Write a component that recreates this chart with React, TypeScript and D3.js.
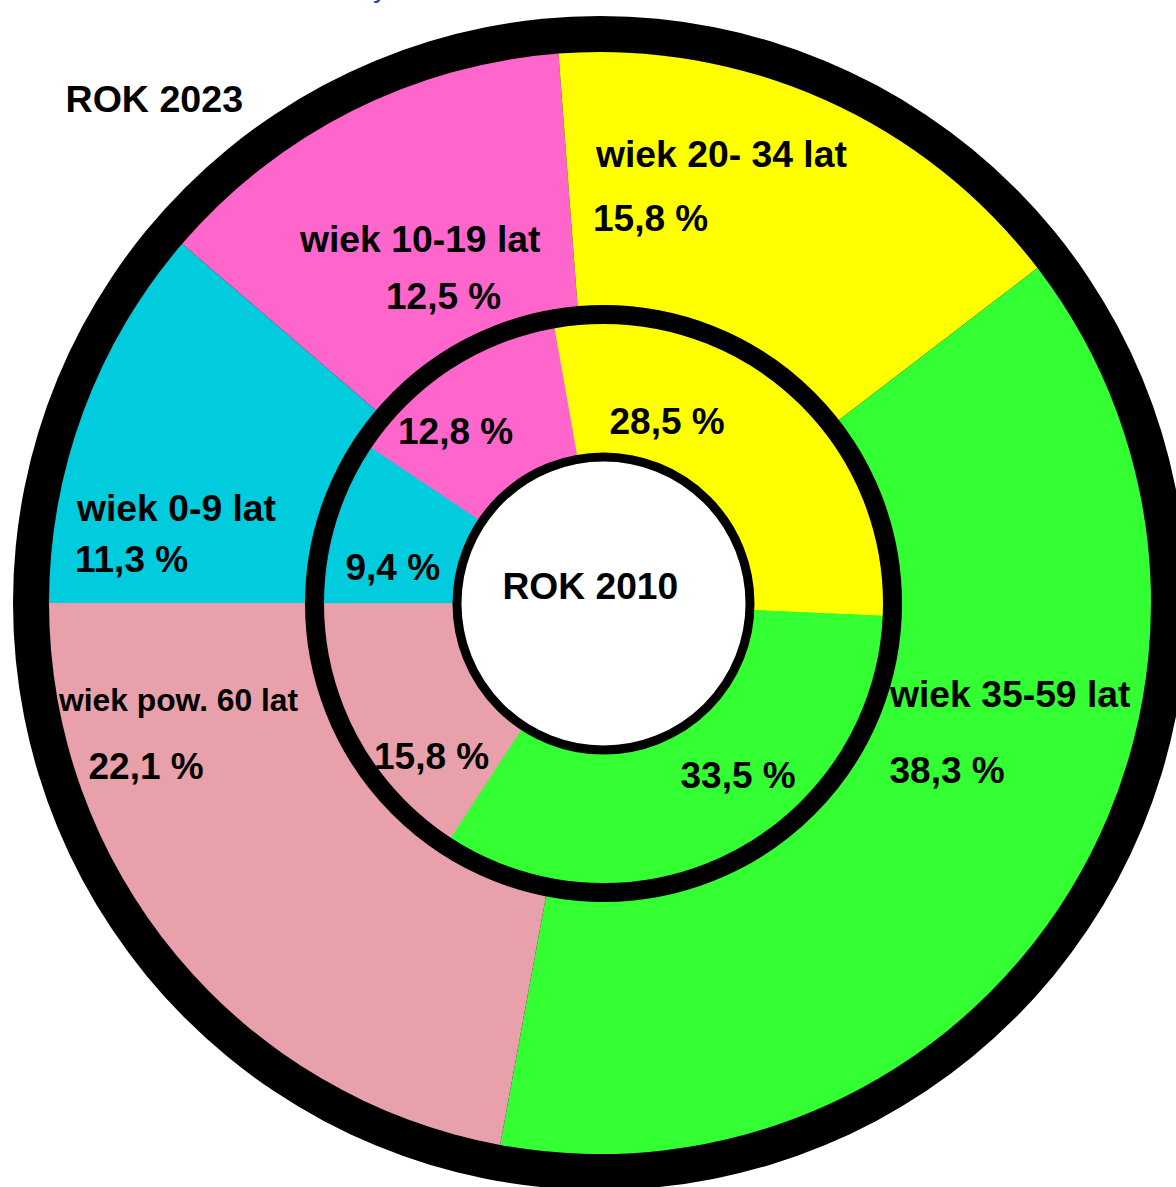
import React from "react";
import * as d3 from "d3";

// ---- data ----
const categories = ["wiek 0-9 lat", "wiek 10-19 lat", "wiek 20- 34 lat", "wiek 35-59 lat", "wiek pow. 60 lat"];
const values2023 = [11.3, 12.5, 15.8, 38.3, 22.1];
const values2010 = [9.4, 12.8, 28.5, 33.5, 15.8];
const sliceColors = ["#00CCDD", "#FF66CC", "#FFFF00", "#33FF33", "#E8A0AA"];
const yearOuter = "ROK 2023";
const yearInner = "ROK 2010";

// ---- layout (positions of labels, not data) ----
const W = 1176;
const H = 1187;
const outerC = { x: 600, y: 603 };
const innerC = { x: 603.5, y: 603.5 };
const nameLayout = [
  { x: 77, y: 521, size: 37.3 },
  { x: 300, y: 252, size: 37.3 },
  { x: 596, y: 167, size: 37.3 },
  { x: 890, y: 707, size: 37.3 },
  { x: 59, y: 711, size: 31.8 },
];
const pctOuterLayout = [
  { x: 75, y: 572 },
  { x: 386, y: 309 },
  { x: 593, y: 231 },
  { x: 889.5, y: 783 },
  { x: 88.5, y: 779 },
];
const pctInnerLayout = [
  { x: 345.5, y: 580 },
  { x: 398, y: 444 },
  { x: 609.5, y: 434 },
  { x: 680.5, y: 788 },
  { x: 374, y: 769 },
];

const fmt = (v: number) => d3.format(".1f")(v).replace(".", ",") + " %";

const FONT = "'Liberation Sans', Arial, Helvetica, sans-serif";

export default function App() {
  const pie = d3
    .pie<number>()
    .sort(null)
    .value((d) => d)
    .startAngle(1.5 * Math.PI)
    .endAngle(3.5 * Math.PI);

  const outerArcs = pie(values2023);
  const innerArcs = pie(values2010);
  const outerArc = d3.arc<d3.PieArcDatum<number>>().innerRadius(0).outerRadius(551);
  const innerArc = d3.arc<d3.PieArcDatum<number>>().innerRadius(0).outerRadius(289);

  return (
    <svg
      width={W}
      height={H}
      viewBox={`0 0 ${W} ${H}`}
      style={{ position: "absolute", left: 0, top: 0, display: "block", background: "#ffffff" }}
      fontFamily={FONT}
      fontWeight="bold"
    >
      <rect x={0} y={0} width={W} height={H} fill="#ffffff" />
      <text x={373} y={-3} fontSize={30} fill="#2A4B9B" fontWeight="normal">y</text>

      <g transform={`translate(${outerC.x},${outerC.y})`}>
        <circle r={587} fill="#000000" />
        {outerArcs.map((a, i) => (
          <path key={i} d={outerArc(a) || ""} fill={sliceColors[i]} />
        ))}
      </g>

      <g transform={`translate(${innerC.x},${innerC.y})`}>
        {innerArcs.map((a, i) => (
          <path key={i} d={innerArc(a) || ""} fill={sliceColors[i]} />
        ))}
        <circle r={289} fill="none" stroke="#000000" strokeWidth={19} />
        <circle r={146.5} fill="#ffffff" stroke="#000000" strokeWidth={9} />
      </g>

      <text x={65.5} y={112} fontSize={37.6} fill="#000">{yearOuter}</text>
      <text x={502.5} y={599} fontSize={37.2} fill="#000">{yearInner}</text>

      {categories.map((c, i) => (
        <text key={"n" + i} x={nameLayout[i].x} y={nameLayout[i].y} fontSize={nameLayout[i].size} fill="#000">
          {c}
        </text>
      ))}
      {values2023.map((v, i) => (
        <text key={"o" + i} x={pctOuterLayout[i].x} y={pctOuterLayout[i].y} fontSize={37} fill="#000">
          {fmt(v)}
        </text>
      ))}
      {values2010.map((v, i) => (
        <text key={"i" + i} x={pctInnerLayout[i].x} y={pctInnerLayout[i].y} fontSize={37} fill="#000">
          {fmt(v)}
        </text>
      ))}
    </svg>
  );
}
